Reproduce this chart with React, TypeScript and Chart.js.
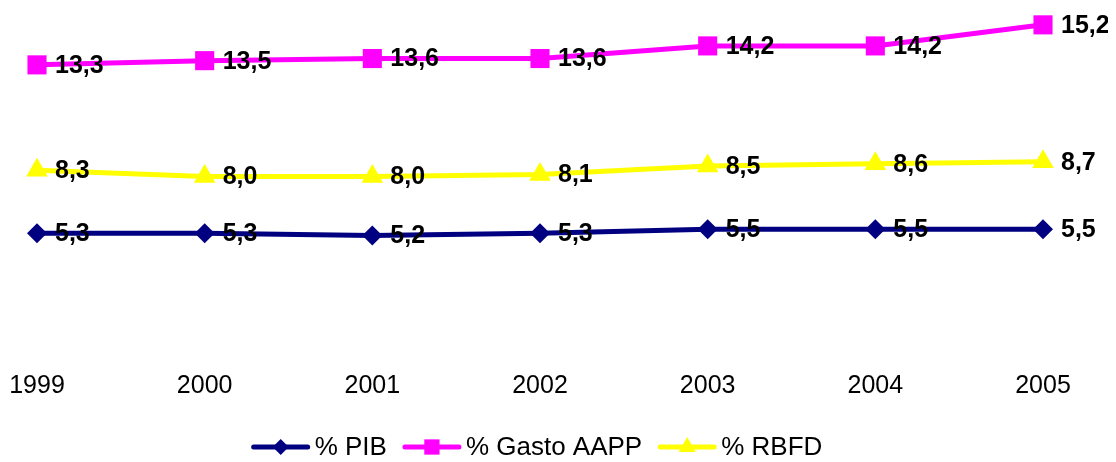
import React, { useEffect, useRef } from 'react';
import { Chart, registerables } from 'chart.js';

Chart.register(...registerables);

const years = ['1999', '2000', '2001', '2002', '2003', '2004', '2005'];
const pib = [5.3, 5.3, 5.2, 5.3, 5.5, 5.5, 5.5];
const gastoAAPP = [13.3, 13.5, 13.6, 13.6, 14.2, 14.2, 15.2];
const rbfd = [8.3, 8.0, 8.0, 8.1, 8.5, 8.6, 8.7];
const seriesNames = ['% PIB', '% Gasto AAPP', '% RBFD'];
const seriesColors = ['#000080', '#FF00FF', '#FFFF00'];
const seriesStyles = ['rectRot', 'rect', 'triangle'];
const seriesRadii = [10, 13.5, 12.5];

const FONT = '"Liberation Sans", Arial, Helvetica, sans-serif';

function drawMarker(ctx: CanvasRenderingContext2D, style: string, x: number, y: number, r: number) {
  ctx.beginPath();
  if (style === 'rectRot') {
    ctx.moveTo(x - r, y);
    ctx.lineTo(x, y - r);
    ctx.lineTo(x + r, y);
    ctx.lineTo(x, y + r);
  } else if (style === 'rect') {
    const s = Math.SQRT1_2 * r;
    ctx.rect(x - s, y - s, 2 * s, 2 * s);
  } else {
    const h = Math.sqrt(3) / 2 * r;
    ctx.moveTo(x, y - r);
    ctx.lineTo(x + h, y + r / 2);
    ctx.lineTo(x - h, y + r / 2);
  }
  ctx.closePath();
  ctx.fill();
}

const valueLabels = {
  id: 'valueLabels',
  afterDatasetsDraw(chart: any) {
    const ctx = chart.ctx as CanvasRenderingContext2D;
    ctx.save();
    ctx.font = `bold 25px ${FONT}`;
    ctx.fillStyle = '#000';
    ctx.textBaseline = 'middle';
    ctx.textAlign = 'left';
    chart.data.datasets.forEach((ds: any, i: number) => {
      const meta = chart.getDatasetMeta(i);
      meta.data.forEach((pt: any, j: number) => {
        const v = ds.data[j] as number;
        ctx.fillText(v.toFixed(1).replace('.', ','), pt.x + 18, pt.y + 1);
      });
    });
    ctx.restore();
  },
};

const lineLegend = {
  id: 'lineLegend',
  afterDraw(chart: any) {
    const ctx = chart.ctx as CanvasRenderingContext2D;
    const area = chart.chartArea;
    ctx.save();
    ctx.font = `26px ${FONT}`;
    const lineW = 58;
    const gapText = 5;
    const gapItem = 16;
    const widths = seriesNames.map((n) => ctx.measureText(n).width);
    const total = widths.reduce((a, w) => a + lineW + gapText + w, 0) + gapItem * (seriesNames.length - 1);
    let x = (area.left + area.right) / 2 - total / 2 - 3;
    const y = chart.height - 15;
    seriesNames.forEach((name, i) => {
      ctx.strokeStyle = seriesColors[i];
      ctx.fillStyle = seriesColors[i];
      ctx.lineWidth = 5;
      ctx.lineCap = 'round';
      ctx.beginPath();
      ctx.moveTo(x + 2, y);
      ctx.lineTo(x + lineW - 2, y);
      ctx.stroke();
      drawMarker(ctx, seriesStyles[i], x + lineW / 2, y, seriesRadii[i] * 0.8);
      ctx.fillStyle = '#000';
      ctx.textBaseline = 'middle';
      ctx.textAlign = 'left';
      ctx.fillText(name, x + lineW + gapText, y + 1);
      x += lineW + gapText + widths[i] + gapItem;
    });
    ctx.restore();
  },
};

export default function App() {
  const ref = useRef<HTMLCanvasElement | null>(null);
  useEffect(() => {
    if (!ref.current) return;
    const series = [pib, gastoAAPP, rbfd];
    const chart = new Chart(ref.current, {
      type: 'line',
      data: {
        labels: years,
        datasets: series.map((data, i) => ({
          label: seriesNames[i],
          data,
          borderColor: seriesColors[i],
          backgroundColor: seriesColors[i],
          borderWidth: 5,
          pointStyle: seriesStyles[i] as any,
          pointRadius: seriesRadii[i],
          pointBorderWidth: 0,
          pointHoverRadius: seriesRadii[i],
          tension: 0,
          fill: false,
          clip: false as any,
        })),
      },
      options: {
        responsive: false,
        animation: false,
        layout: { autoPadding: false, padding: { left: 29, right: 65, top: 0, bottom: 35 } },
        plugins: {
          legend: { display: false },
          tooltip: { enabled: false },
        },
        scales: {
          x: {
            offset: false,
            grid: { display: false, drawTicks: false },
            border: { display: false },
            ticks: {
              color: '#000',
              font: { family: FONT, size: 25 },
              padding: 26,
              maxRotation: 0,
              autoSkip: false,
            },
            afterFit: (scale: any) => {
              scale.paddingLeft = 0;
              scale.paddingRight = 0;
            },
          },
          y: { display: false, min: 0, max: 16 },
        },
      },
      plugins: [valueLabels, lineLegend],
    });
    return () => chart.destroy();
  }, []);
  return (
    <div style={{ width: 1100, height: 454 }}>
      <canvas ref={ref} width={1100} height={454} style={{ display: 'block' }} />
    </div>
  );
}
